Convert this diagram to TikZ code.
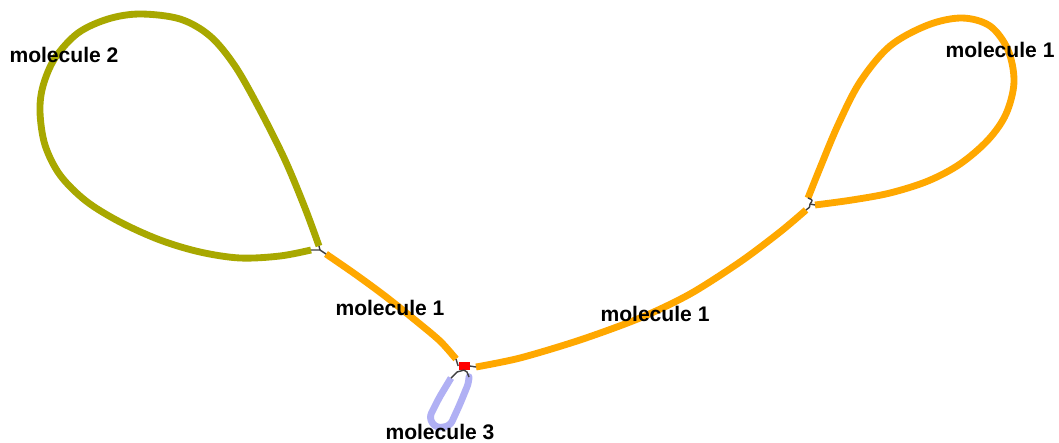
\documentclass[tikz,border=0pt]{standalone}
\usepackage{fontspec}
\setmainfont{Liberation Sans}
\begin{document}
\begin{tikzpicture}[x=0.02cm,y=-0.02cm,
  strand/.style={line width=3.9pt,line cap=butt,line join=round},
  olivestrand/.style={strand,draw=olivec},
  orangestrand/.style={strand,draw=orangec},
  bluestrand/.style={strand,draw=bluec},
  link/.style={draw=black!75,line width=0.8pt},
  lbl/.style={font=\bfseries\fontsize{12}{14}\selectfont,inner sep=0pt,text=black}]
\definecolor{olivec}{HTML}{A8A800}
\definecolor{orangec}{HTML}{FFA800}
\definecolor{bluec}{HTML}{B0B0F4}
\useasboundingbox (0,0) rectangle (1059,443);
\fill[white] (0,0) rectangle (1059,443);
% junctions
\coordinate (jA) at (320,250);
\coordinate (jB) at (810,204);
\node[fill=red,minimum width=0.22cm,minimum height=0.15cm,inner sep=0pt] (red) at (464,366) {};
% olive loop (molecule 2)
\draw[olivestrand] plot[smooth,tension=0.55] coordinates {(319,246) (305,208) (285,160) (260,110) (235,66) (210,36) (180,19) (140,14) (108,19) (78,33) (55,58) (43,86) (40,112) (45,145) (60,175) (86,201) (120,222) (160,240) (200,252) (240,258) (280,256) (311,250)};
% orange segment jA -> red
\draw[orangestrand] plot[smooth] coordinates {(326,254) (355,274) (385,296) (415,320) (440,341) (456,359)};
% orange segment red -> jB
\draw[orangestrand] plot[smooth] coordinates {(476,367) (520,358) (580,340) (640,318) (690,294) (740,262) (780,232) (806,210)};
% orange loop right (molecule 1)
\draw[orangestrand] plot[smooth,tension=0.55] coordinates {(808,198) (820,168) (838,125) (860,82) (890,46) (928,25) (962,18) (990,26) (1008,50) (1014,82) (1006,114) (988,140) (960,164) (928,181) (890,193) (852,200) (815,205)};
% blue loop (molecule 3)
\draw[bluestrand,rounded corners=3pt] (451,378) -- (439,398) -- (429,418) -- (436,428) -- (450,426) -- (460,404) -- (469,382) -- (469,377);
% small links at junctions
\draw[link] (311,250) -- (jA) -- (326,254);
\draw[link] (319,246) -- (jA);
\draw[link] (456,359) -- (red.west);
\draw[link] (476,367) -- (red.east);
\draw[link] (red.south) -- (457,372) -- (451,378);
\draw[link] (red.south) -- (467,372) -- (469,377);
\draw[link] (808,198) .. controls (813,200) .. (jB) .. controls (810,207) .. (806,210);
\draw[link] (jB) -- (815,205);
% labels
\node[lbl] (m2) at (64,55) {molecule 2};
\node[lbl] (m1a) at (1000,50) {molecule 1};
\node[lbl] (m1b) at (390,308) {molecule 1};
\node[lbl] (m1c) at (655,314) {molecule 1};
\node[lbl] (m3) at (440,432) {molecule 3};
\end{tikzpicture}
\end{document}
